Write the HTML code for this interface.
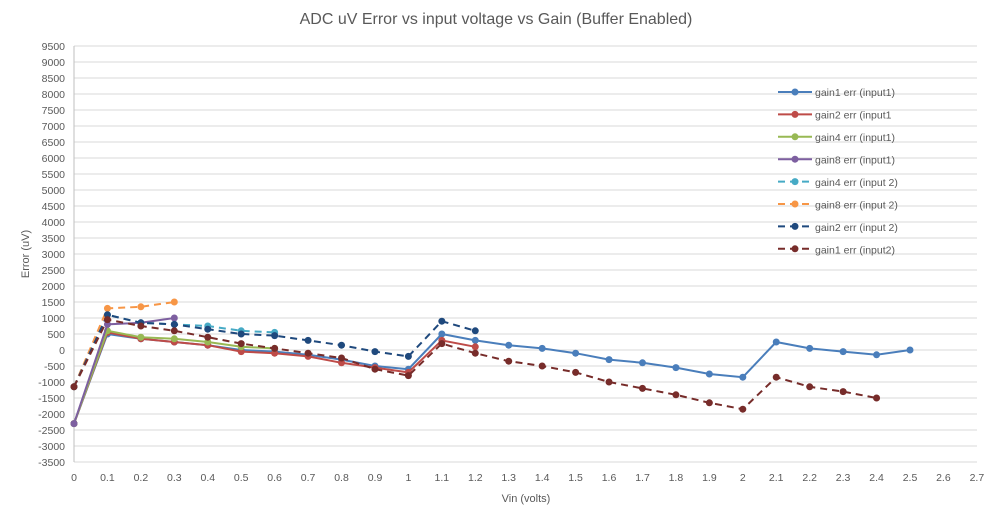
<!DOCTYPE html>
<html><head><meta charset="utf-8"><style>
body{margin:0;background:#fff}
svg{display:block;font-family:"Liberation Sans",Arial,sans-serif}
</style></head><body>
<svg id="c" width="992" height="515" viewBox="0 0 992 515" xmlns="http://www.w3.org/2000/svg">
<rect width="992" height="515" fill="#fff"/>
<text x="496" y="24" text-anchor="middle" font-size="16" fill="#595959">ADC uV Error vs input voltage vs Gain (Buffer Enabled)</text>
<g id="grid" stroke="#d9d9d9" stroke-width="1"></g>
<line x1="74" y1="46" x2="74" y2="462" stroke="#bfbfbf"/>
<g font-size="10.5" fill="#595959" text-anchor="end">
<text x="65" y="50">9500</text><text x="65" y="66">9000</text><text x="65" y="82">8500</text><text x="65" y="98">8000</text><text x="65" y="114">7500</text><text x="65" y="130">7000</text><text x="65" y="146">6500</text><text x="65" y="162">6000</text><text x="65" y="178">5500</text><text x="65" y="194">5000</text><text x="65" y="210">4500</text><text x="65" y="226">4000</text><text x="65" y="242">3500</text><text x="65" y="258">3000</text><text x="65" y="274">2500</text><text x="65" y="290">2000</text><text x="65" y="306">1500</text><text x="65" y="322">1000</text><text x="65" y="338">500</text><text x="65" y="354">0</text><text x="65" y="370">-500</text><text x="65" y="386">-1000</text><text x="65" y="402">-1500</text><text x="65" y="418">-2000</text><text x="65" y="434">-2500</text><text x="65" y="450">-3000</text><text x="65" y="466">-3500</text>
</g>
<g font-size="10.5" fill="#595959" text-anchor="middle">
<text x="74" y="481">0</text><text x="107.4" y="481">0.1</text><text x="140.9" y="481">0.2</text><text x="174.3" y="481">0.3</text><text x="207.8" y="481">0.4</text><text x="241.2" y="481">0.5</text><text x="274.6" y="481">0.6</text><text x="308.1" y="481">0.7</text><text x="341.5" y="481">0.8</text><text x="375" y="481">0.9</text><text x="408.4" y="481">1</text><text x="441.8" y="481">1.1</text><text x="475.3" y="481">1.2</text><text x="508.7" y="481">1.3</text><text x="542.2" y="481">1.4</text><text x="575.6" y="481">1.5</text><text x="609" y="481">1.6</text><text x="642.5" y="481">1.7</text><text x="675.9" y="481">1.8</text><text x="709.4" y="481">1.9</text><text x="742.8" y="481">2</text><text x="776.2" y="481">2.1</text><text x="809.7" y="481">2.2</text><text x="843.1" y="481">2.3</text><text x="876.6" y="481">2.4</text><text x="910" y="481">2.5</text><text x="943.4" y="481">2.6</text><text x="976.9" y="481">2.7</text>
</g>
<text x="526" y="502" text-anchor="middle" font-size="11" fill="#595959">Vin (volts)</text>
<text transform="translate(29,254) rotate(-90)" text-anchor="middle" font-size="11" fill="#595959">Error (uV)</text>
<g id="series"></g>
<g id="legend"></g>
<g font-size="10.5" fill="#595959">
<text x="815" y="96">gain1 err (input1)</text>
<text x="815" y="118.5">gain2 err (input1</text>
<text x="815" y="141">gain4 err (input1)</text>
<text x="815" y="163.5">gain8 err (input1)</text>
<text x="815" y="186">gain4 err (input 2)</text>
<text x="815" y="208.5">gain8 err (input 2)</text>
<text x="815" y="231">gain2 err (input 2)</text>
<text x="815" y="253.5">gain1 err (input2)</text>
</g>
</svg>
<script>
var NS="http://www.w3.org/2000/svg";
function el(p,t,a){var e=document.createElementNS(NS,t);for(var k in a)e.setAttribute(k,a[k]);p.appendChild(e);return e;}
var g=document.getElementById('grid');
for(var i=0;i<=26;i++){var y=46+i*16;el(g,'line',{x1:74,x2:977,y1:y,y2:y});}
function X(v){return 74+334.4*v}function Y(v){return 350-v*0.032}
var S=[
["#4a7ebb",0,[-2300,500,350,250,150,0,-50,-150,-300,-500,-600,500,300,150,50,-100,-300,-400,-550,-750,-850,250,50,-50,-150,0]],
["#be4b48",0,[-2300,550,350,250,150,-50,-100,-200,-400,-550,-700,300,100]],
["#98b954",0,[-2300,600,400,350,250,100,50]],
["#7d5fa0",0,[-2300,800,850,1000]],
["#46aac5",1,[-1150,1100,850,800,750,600,550]],
["#f79646",1,[-1150,1300,1350,1500]],
["#1f497d",1,[-1150,1100,850,800,650,500,450,300,150,-50,-200,900,600]],
["#772c2a",1,[-1150,950,750,600,400,200,50,-100,-250,-600,-800,200,-100,-350,-500,-700,-1000,-1200,-1400,-1650,-1850,-850,-1150,-1300,-1500]]
];
var sg=document.getElementById('series'),lg=document.getElementById('legend');
S.forEach(function(s,j){
 var pts=s[2].map(function(v,i){return X(i*0.1).toFixed(1)+","+Y(v).toFixed(1)}).join(" ");
 var a={points:pts,fill:"none",stroke:s[0],"stroke-width":2};
 if(s[1])a["stroke-dasharray"]="7,5";
 el(sg,'polyline',a);
 s[2].forEach(function(v,i){el(sg,'circle',{cx:X(i*0.1),cy:Y(v),r:3.5,fill:s[0]});});
 var ly=92+j*22.4;
 var la={x1:778,x2:812,y1:ly,y2:ly,stroke:s[0],"stroke-width":2};
 if(s[1])la["stroke-dasharray"]="7,5";
 el(lg,'line',la);el(lg,'circle',{cx:795,cy:ly,r:3.5,fill:s[0]});
});
</script>
</body></html>
